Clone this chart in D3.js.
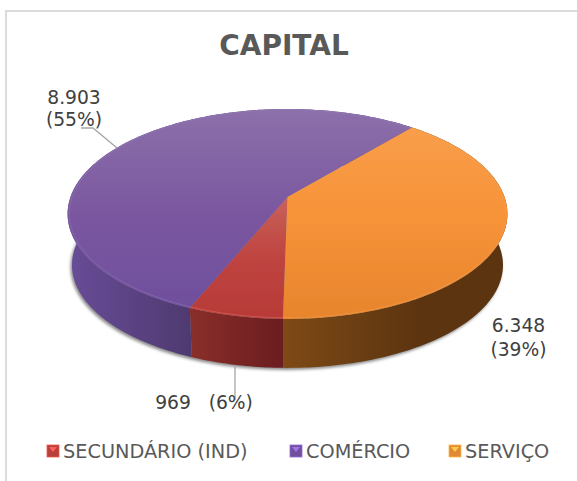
<!DOCTYPE html>
<html>
<head>
<meta charset="utf-8">
<script src="https://cdn.jsdelivr.net/npm/d3@7"></script>
<style>
html, body { margin: 0; padding: 0; background: #fff; }
svg { display: block; }
text { font-family: "DejaVu Sans", sans-serif; }
</style>
</head>
<body>
<div id="chart"></div>
<script>
// Chart data
const categories = ["SECUNDÁRIO (IND)", "COMÉRCIO", "SERVIÇO"];
const values = [969, 8903, 6348];

// Colours per category: top face gradient (far to near) and wall gradient (left to right)
const topColors = [["#c8625a", "#bf4440", "#b73a37"], ["#8c70aa", "#7a579f", "#6e4e9d"], ["#f9a04e", "#f79339", "#e7852d"]];
const wallColors = [["#8a2e2a", "#6b1d1f"], ["#684c98", "#4f3a70"], ["#7e4a16", "#5c3410"]];
const legendColors = ["#b8403c", "#6f4f9e", "#e08a35"];

const width = 577, height = 481;

let svg = d3.select("#chart")
    .append("svg")
    .attr("width", width)
    .attr("height", height);

let defs = svg.append("defs");

// Pie sits on a tilted disc, so the hub is above the middle of the ellipse
const hub = {x: 287.5, y: 197};
const disc = {a: 217, b: 102.2, k: 0.1617};
const wall = {dy: 51.4, scale: 0.98};

function topPoint(angle, r = 1) {
    let u = Math.sin(angle) * r, v = Math.cos(angle) * r;
    let w = 1 + disc.k * v;
    return [hub.x + disc.a * u / w, hub.y - disc.b * v / w];
}

function lowPoint(angle) {
    let p = topPoint(angle);
    return [hub.x + (p[0] - hub.x) * wall.scale, hub.y + (p[1] - hub.y) * wall.scale + wall.dy];
}

let pie = d3.pie()
    .sort(null)
    .startAngle(181 * Math.PI / 180)
    .endAngle((181 + 360) * Math.PI / 180);

let slices = pie(values);
let line = d3.line();

function arcAngles(d) {
    let n = Math.ceil((d.endAngle - d.startAngle) * 60);
    return d3.range(n + 1).map(i => d.startAngle + (d.endAngle - d.startAngle) * i / n);
}

// Gradients
slices.forEach((d, i) => {
    let tg = defs.append("linearGradient")
        .attr("id", `top${i}`)
        .attr("gradientUnits", "userSpaceOnUse")
        .attr("x1", 0).attr("x2", 0)
        .attr("y1", i == 0 ? hub.y : 109)
        .attr("y2", 319);
    topColors[i].forEach((c, j) => {
        tg.append("stop").attr("offset", j / 2).attr("stop-color", c);
    });

    let xs = arcAngles(d).map(a => topPoint(a)[0]);
    let wg = defs.append("linearGradient")
        .attr("id", `wall${i}`)
        .attr("gradientUnits", "userSpaceOnUse")
        .attr("y1", 0).attr("y2", 0)
        .attr("x1", i == 2 ? 282 : d3.min(xs))
        .attr("x2", i == 2 ? 420 : (i == 1 ? 190 : 282));
    wallColors[i].forEach((c, j) => {
        wg.append("stop").attr("offset", j).attr("stop-color", c);
    });
});

let blur = defs.append("filter").attr("id", "soft")
    .attr("x", "-10%").attr("y", "-10%").attr("width", "120%").attr("height", "120%");
blur.append("feGaussianBlur").attr("stdDeviation", 1.6);

let soft = defs.append("filter").attr("id", "soft2");
soft.append("feGaussianBlur").attr("stdDeviation", 0.5);

// Chart frame, only the top and left edges show
svg.append("path")
    .attr("d", line([[6, height], [6, 11], [width, 11]]))
    .attr("fill", "none")
    .attr("stroke", "#dcdcdc")
    .attr("stroke-width", 2);

// Title
svg.append("text")
    .attr("x", 284)
    .attr("y", 55)
    .attr("text-anchor", "middle")
    .style("font-size", "28px")
    .style("font-weight", "bold")
    .attr("fill", "#595959")
    .text("CAPITAL");

// Shadow under the disc
let full = d3.range(0, 361, 2).map(a => a * Math.PI / 180);
svg.append("path")
    .attr("d", line(full.map(a => lowPoint(a))) + "Z")
    .attr("transform", "translate(-1.5, 2)")
    .attr("fill", "#8a8a8a")
    .attr("filter", "url(#soft)");

// Walls
svg.selectAll(".wall")
    .data(slices)
    .enter()
    .append("path")
    .attr("class", "wall")
    .attr("d", d => {
        let a = arcAngles(d);
        return line(a.map(x => topPoint(x)).concat(a.slice().reverse().map(x => lowPoint(x)))) + "Z";
    })
    .attr("fill", (d, i) => `url(#wall${i})`);

// Top faces
svg.selectAll(".slice")
    .data(slices)
    .enter()
    .append("path")
    .attr("class", "slice")
    .attr("d", d => line([[hub.x, hub.y]].concat(arcAngles(d).map(a => topPoint(a)))) + "Z")
    .attr("fill", (d, i) => `url(#top${i})`)
    .attr("filter", "url(#soft2)");

// Light rim along the edge of the top face
svg.selectAll(".rim")
    .data(slices)
    .enter()
    .append("path")
    .attr("class", "rim")
    .attr("d", d => line(arcAngles(d).map(a => topPoint(a, 0.992))))
    .attr("fill", "none")
    .attr("stroke", (d, i) => ["#e8807a", "#9d80c4", "#f5a055"][i])
    .attr("stroke-width", 1)
    .attr("opacity", 0.4)
    .attr("filter", "url(#soft2)");

// Data labels
let total = d3.sum(values);
let ptBR = d3.formatLocale({decimal: ",", thousands: ".", grouping: [3], currency: ["R$", ""]});
let fmt = ptBR.format(",");
let pct = v => `(${Math.round(v / total * 100)}%)`;

let leaders = [[[81, 128], [93, 128], [117, 148]], [[235, 365], [235, 400]]];
svg.selectAll(".leader")
    .data(leaders)
    .enter()
    .append("path")
    .attr("class", "leader")
    .attr("d", d => line(d))
    .attr("fill", "none")
    .attr("stroke", "#a6a6a6")
    .attr("stroke-width", 1.3);

let labels = [
    {i: 1, x: 74, lines: [[104, v => fmt(v)], [126, pct]]},
    {i: 2, x: 518.5, lines: [[332, v => fmt(v)], [356, pct]]},
    {i: 0, x: 204, lines: [[409, v => `${fmt(v)}\u00a0\u00a0\u00a0${pct(v)}`]]}
];
labels.forEach(l => {
    l.lines.forEach(([y, f]) => {
        svg.append("text")
            .attr("x", l.x)
            .attr("y", y)
            .attr("text-anchor", "middle")
            .style("font-size", "18.7px")
            .attr("fill", "#404040")
            .text(f(values[l.i]));
    });
});

// Legend
let legendX = d3.scaleOrdinal().domain(categories).range([47, 290, 449]);
let legend = svg.selectAll(".legend")
    .data(categories)
    .enter()
    .append("g")
    .attr("class", "legend")
    .attr("transform", d => `translate(${legendX(d)}, 445)`);

legend.append("rect")
    .attr("width", 12)
    .attr("height", 12)
    .attr("fill", (d, i) => legendColors[i])
    .attr("stroke", (d, i) => d3.color(legendColors[i]).brighter(0.8))
    .attr("stroke-width", 0.8);

legend.append("path")
    .attr("d", line([[2, 2], [10, 2], [6, 7]]) + "Z")
    .attr("fill", (d, i) => d3.color(legendColors[i]).brighter(1.1));

legend.append("text")
    .attr("x", 16)
    .attr("y", 13)
    .style("font-size", "19.3px")
    .attr("fill", "#595959")
    .text(d => d);
</script>
</body>
</html>
